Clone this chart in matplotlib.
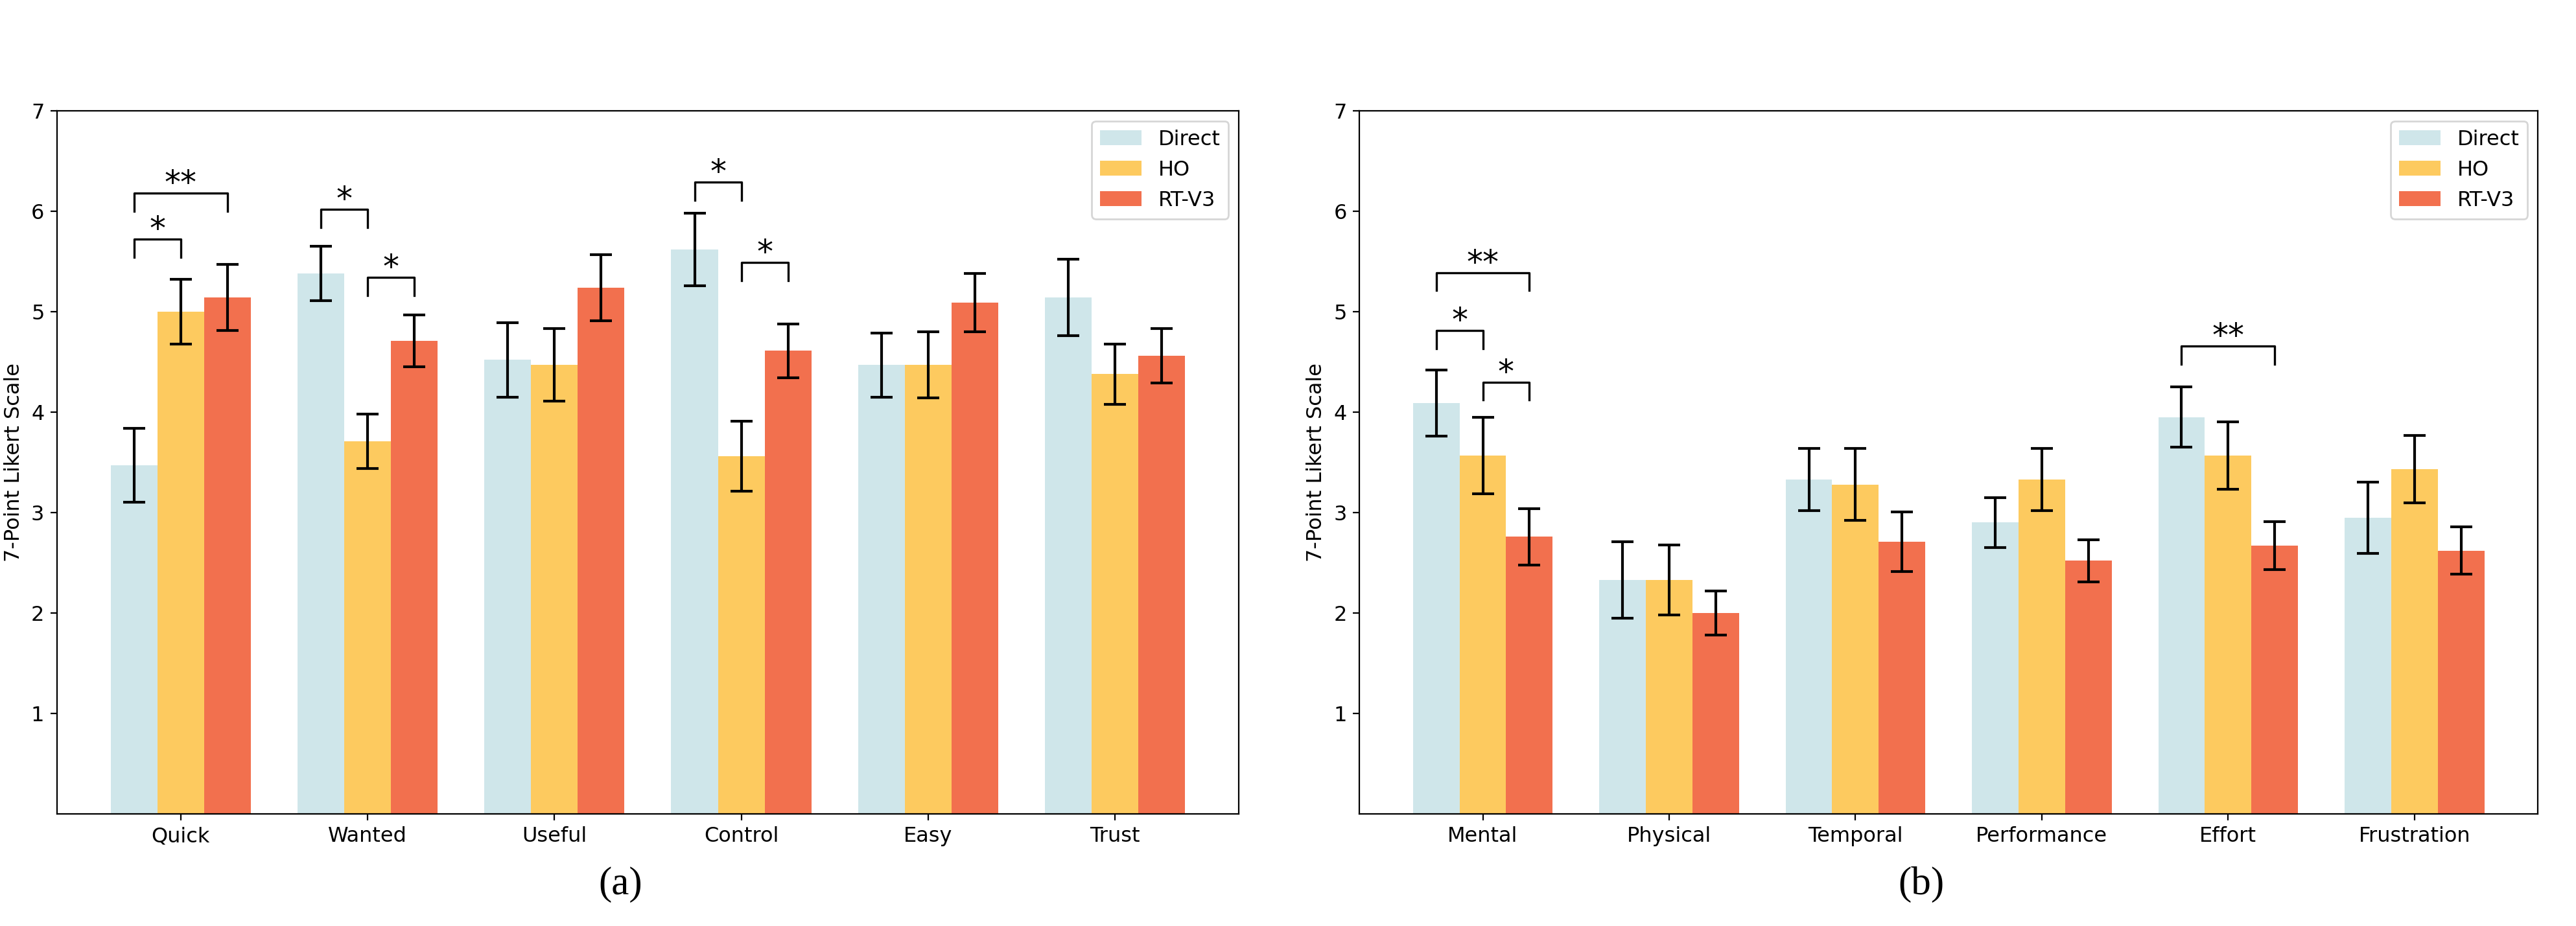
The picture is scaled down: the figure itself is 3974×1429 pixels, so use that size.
import numpy as np
import matplotlib.pyplot as plt

# Данни (стойности, отчетени от графиката)
series = ["Direct", "HO", "RT-V3"]
colors = ["#cfe6ea", "#fdca5f", "#f2704e"]

cats_a = ["Quick", "Wanted", "Useful", "Control", "Easy", "Trust"]
mean_a = {
    "Direct": [3.47, 5.38, 4.52, 5.62, 4.47, 5.14],
    "HO":     [5.00, 3.71, 4.47, 3.56, 4.47, 4.38],
    "RT-V3":  [5.14, 4.71, 5.24, 4.61, 5.09, 4.56],
}
err_a = {
    "Direct": [0.37, 0.27, 0.37, 0.36, 0.32, 0.38],
    "HO":     [0.32, 0.27, 0.36, 0.35, 0.33, 0.30],
    "RT-V3":  [0.33, 0.26, 0.33, 0.27, 0.29, 0.27],
}
# (категория, серия 1, серия 2, височина, текст)
sig_a = [
    (0, 0, 1, 5.72, "*"),
    (0, 0, 2, 6.18, "**"),
    (1, 0, 1, 6.02, "*"),
    (1, 1, 2, 5.34, "*"),
    (3, 0, 1, 6.29, "*"),
    (3, 1, 2, 5.49, "*"),
]

cats_b = ["Mental", "Physical", "Temporal", "Performance", "Effort", "Frustration"]
mean_b = {
    "Direct": [4.09, 2.33, 3.33, 2.90, 3.95, 2.95],
    "HO":     [3.57, 2.33, 3.28, 3.33, 3.57, 3.43],
    "RT-V3":  [2.76, 2.00, 2.71, 2.52, 2.67, 2.62],
}
err_b = {
    "Direct": [0.33, 0.38, 0.31, 0.25, 0.30, 0.355],
    "HO":     [0.38, 0.35, 0.36, 0.31, 0.335, 0.335],
    "RT-V3":  [0.28, 0.22, 0.295, 0.21, 0.24, 0.235],
}
sig_b = [
    (0, 0, 2, 5.39, "**"),
    (0, 0, 1, 4.81, "*"),
    (0, 1, 2, 4.30, "*"),
    (4, 0, 2, 4.66, "**"),
]

width = 0.25
fs = 11.5

fig = plt.figure(figsize=(3974 / 200, 1429 / 200), dpi=200)
ax_a = fig.add_axes([0.0221, 0.1211, 0.4588, 0.7592])
ax_b = fig.add_axes([0.5277, 0.1211, 0.4575, 0.7592])


def draw(ax, cats, means, errs, sigs):
    x = np.arange(len(cats))
    for i, s in enumerate(series):
        ax.bar(x + (i - 1) * width, means[s], width, color=colors[i], label=s,
               yerr=errs[s], capsize=6,
               error_kw=dict(elinewidth=1.5, capthick=1.5, ecolor="black"))
    for c, s1, s2, y, txt in sigs:
        x1 = c + (s1 - 1) * width
        x2 = c + (s2 - 1) * width
        h = 0.18
        ax.plot([x1, x1, x2, x2], [y - h, y, y, y - h], color="black", lw=1.2)
        ax.text((x1 + x2) / 2, y, txt, ha="center", va="baseline", fontsize=18)
    ax.set_xticks(x)
    ax.set_xticklabels(cats, fontsize=fs)
    ax.set_ylim(0, 7)
    ax.set_yticks([1, 2, 3, 4, 5, 6, 7])
    ax.tick_params(axis="y", labelsize=fs)
    ax.set_ylabel("7-Point Likert Scale", fontsize=fs)
    ax.legend(loc="upper right", fontsize=fs)


draw(ax_a, cats_a, mean_a, err_a, sig_a)
draw(ax_b, cats_b, mean_b, err_b, sig_b)

fig.text(0.2408, 0.0448, "(a)", ha="center", va="center",
         family="Liberation Serif", fontsize=22)
fig.text(0.7459, 0.0448, "(b)", ha="center", va="center",
         family="Liberation Serif", fontsize=22)

fig.savefig("out.png", dpi=200)
